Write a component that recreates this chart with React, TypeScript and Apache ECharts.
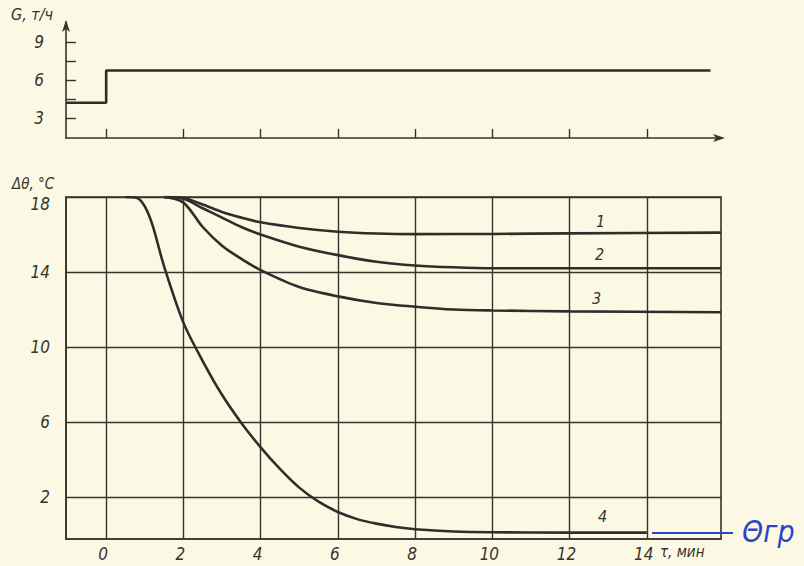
import React, { useEffect, useRef } from "react";
import * as echarts from "echarts";

const stepG: [number, number][] = [
  [-1.04, 4.2],
  [0, 4.2],
  [0, 6.75],
  [15.65, 6.75],
];

const curve1: [number, number][] = [
  [1.5, 18], [2, 17.95], [2.5, 17.6], [3, 17.2], [3.5, 16.9], [4, 16.65], [5, 16.35],
  [6, 16.15], [7, 16.05], [8, 16.02], [10, 16.03], [12, 16.06], [15.92, 16.1],
];
const curve2: [number, number][] = [
  [1.5, 18], [2, 17.9], [2.5, 17.4], [3, 16.9], [3.5, 16.4], [4, 16.0], [5, 15.35],
  [6, 14.9], [7, 14.55], [8, 14.35], [9, 14.25], [10, 14.2], [15.92, 14.2],
];
const curve3: [number, number][] = [
  [1.5, 18], [2, 17.7], [2.5, 16.4], [3, 15.4], [3.5, 14.7], [4, 14.1], [5, 13.2],
  [6, 12.7], [7, 12.35], [8, 12.15], [9, 12.0], [10, 11.95], [12, 11.9], [15.92, 11.85],
];
const curve4: [number, number][] = [
  [0.5, 18], [0.8, 17.95], [1.0, 17.5], [1.2, 16.5], [1.5, 14.3], [2, 11.3], [2.5, 9.25],
  [3, 7.45], [3.5, 5.95], [4, 4.65], [4.5, 3.5], [5, 2.5], [5.5, 1.75], [6, 1.2],
  [6.5, 0.82], [7, 0.58], [7.5, 0.4], [8, 0.28], [9, 0.16], [10, 0.12], [12, 0.1], [14, 0.1],
];

const xTicks = [0, 2, 4, 6, 8, 10, 12, 14];
const topYTicks = [3, 4.5, 6, 7.5, 9];
const topYLabels = [3, 6, 9];
const bottomYTicks = [2, 6, 10, 14, 18];

const curveNames = ["1", "2", "3", "4"];

const INK = "#35342f";
const FONT = "'Liberation Sans Narrow', 'DejaVu Sans Condensed', 'Liberation Sans', sans-serif";

export default function App() {
  const ref = useRef<HTMLDivElement>(null);
  useEffect(() => {
    const chart = echarts.init(ref.current!, null, { renderer: "svg" });
    const labelStyle = {
      color: INK,
      fontFamily: FONT,
      fontStyle: "italic" as const,
      fontSize: 17,
    };
    const curveSeries = [curve1, curve2, curve3, curve4].map((d, i) => ({
      type: "line",
      name: curveNames[i],
      xAxisIndex: 1,
      yAxisIndex: 1,
      data: d,
      smooth: 0.3,
      symbol: "none",
      lineStyle: { color: "#2f2e2a", width: 2.6 },
    }));
    chart.setOption({
      animation: false,
      backgroundColor: "#fbf8e4",
      grid: [
        { left: 66, width: 655, top: 22, height: 116, show: false },
        {
          left: 66,
          width: 655,
          top: 197,
          height: 342,
          show: true,
          borderColor: INK,
          borderWidth: 1.6,
          backgroundColor: "transparent",
        },
      ],
      xAxis: [
        {
          type: "value",
          gridIndex: 0,
          min: -1.04,
          max: 15.92,
          axisLine: {
            show: true,
            onZero: false,
            lineStyle: { color: INK, width: 1.6 },
            symbol: ["none", "arrow"],
            symbolSize: [6, 12],
            symbolOffset: [0, 4],
          },
          axisTick: { show: true, inside: true, length: 9, customValues: xTicks, lineStyle: { color: INK, width: 1.4 } },
          axisLabel: { show: false },
          splitLine: { show: false },
        },
        {
          type: "value",
          gridIndex: 1,
          min: -1.04,
          max: 15.92,
          axisLine: { show: true, onZero: false, lineStyle: { color: INK, width: 1.6 } },
          axisTick: { show: false, customValues: xTicks },
          axisLabel: { ...labelStyle, margin: 6, padding: [0, 6, 0, 0], customValues: xTicks },
          splitLine: { show: true, lineStyle: { color: INK, width: 1.4 } },
        },
      ],
      yAxis: [
        {
          type: "value",
          gridIndex: 0,
          min: 1.42,
          max: 10.58,
          axisLine: {
            show: true,
            onZero: false,
            lineStyle: { color: INK, width: 1.6 },
            symbol: ["none", "arrow"],
            symbolSize: [6, 12],
            symbolOffset: [0, 2],
          },
          axisTick: { show: true, inside: true, length: 10, customValues: topYTicks, lineStyle: { color: INK, width: 1.4 } },
          axisLabel: { ...labelStyle, margin: 22, customValues: topYLabels },
          splitLine: { show: false },
        },
        {
          type: "value",
          gridIndex: 1,
          min: -0.24,
          max: 18,
          axisLine: { show: true, onZero: false, lineStyle: { color: INK, width: 1.6 } },
          axisTick: { show: false, customValues: bottomYTicks },
          axisLabel: {
            ...labelStyle,
            margin: 16,
            customValues: bottomYTicks,
            formatter: (v: number) => (v === 18 ? "{top|18}" : String(v)),
            rich: {
              top: { ...labelStyle, padding: [14, 0, 0, 0] },
            },
          },
          splitLine: { show: true, lineStyle: { color: INK, width: 1.4 } },
        },
      ],
      series: [
        {
          type: "line",
          name: "G",
          xAxisIndex: 0,
          yAxisIndex: 0,
          data: stepG,
          symbol: "none",
          lineStyle: { color: "#2f2e2a", width: 2.6 },
        },
        ...curveSeries,
      ],
      graphic: [
        { type: "text", left: 11, top: 6, style: { text: "G, т/ч", fill: INK, font: `italic 16px ${FONT}` } },
        { type: "text", left: 12, top: 176, style: { text: "Δθ, °C", fill: INK, font: `italic 15px ${FONT}` } },
        { type: "text", left: 660, top: 544, style: { text: "τ, мин", fill: INK, font: `italic 15px ${FONT}` } },
        { type: "text", left: 596, top: 213, style: { text: "1", fill: INK, font: `italic 16px ${FONT}` } },
        { type: "text", left: 595, top: 246, style: { text: "2", fill: INK, font: `italic 16px ${FONT}` } },
        { type: "text", left: 592, top: 290, style: { text: "3", fill: INK, font: `italic 16px ${FONT}` } },
        { type: "text", left: 598, top: 508, style: { text: "4", fill: INK, font: `italic 16px ${FONT}` } },
        {
          type: "line",
          shape: { x1: 652, y1: 533, x2: 733, y2: 533 },
          style: { stroke: "#2a46c8", lineWidth: 2 },
        },
        {
          type: "text",
          left: 742,
          top: 516,
          style: { text: "Θгр", fill: "#2a46c8", font: `italic 30px ${FONT}` },
        },
      ],
    });
    return () => chart.dispose();
  }, []);
  return (
    <div
      ref={ref}
      style={{ position: "fixed", left: 0, top: 0, width: 804, height: 566 }}
    />
  );
}
